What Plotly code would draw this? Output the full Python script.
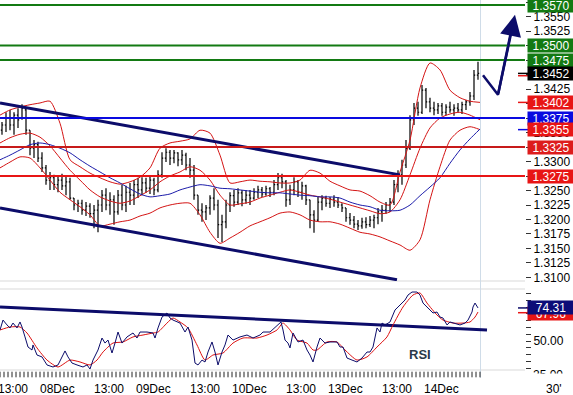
import plotly.graph_objects as go

# ---------------- data ----------------
# hourly bars, x in hours since start of chart
bar_hours = [i + 0.5 for i in range(120)]
bar_open = [1.3354, 1.3363, 1.3375, 1.3363, 1.3380, 1.3375, 1.3389, 1.3354, 1.3323, 1.3329,
            1.3306, 1.3289, 1.3268, 1.3272, 1.3260, 1.3268, 1.3258, 1.3265, 1.3237, 1.3225,
            1.3228, 1.3216, 1.3223, 1.3210, 1.3216, 1.3225, 1.3242, 1.3225, 1.3234, 1.3213,
            1.3242, 1.3225, 1.3247, 1.3242, 1.3260, 1.3251, 1.3263, 1.3254, 1.3268, 1.3251,
            1.3277, 1.3306, 1.3316, 1.3306, 1.3315, 1.3303, 1.3311, 1.3294, 1.3285, 1.3242,
            1.3216, 1.3213, 1.3220, 1.3237, 1.3225, 1.3191, 1.3196, 1.3225, 1.3241, 1.3230,
            1.3246, 1.3234, 1.3242, 1.3237, 1.3247, 1.3251, 1.3244, 1.3253, 1.3247, 1.3260,
            1.3272, 1.3265, 1.3234, 1.3251, 1.3265, 1.3247, 1.3258, 1.3234, 1.3208, 1.3199,
            1.3230, 1.3237, 1.3228, 1.3235, 1.3230, 1.3225, 1.3220, 1.3203, 1.3199, 1.3192,
            1.3189, 1.3196, 1.3191, 1.3199, 1.3203, 1.3213, 1.3216, 1.3225, 1.3230, 1.3260,
            1.3277, 1.3294, 1.3323, 1.3372, 1.3392, 1.3385, 1.3423, 1.3403, 1.3392, 1.3389,
            1.3396, 1.3385, 1.3394, 1.3389, 1.3392, 1.3389, 1.3398, 1.3403, 1.3413, 1.3449]
bar_high = [1.3368, 1.3385, 1.3389, 1.3385, 1.3392, 1.3399, 1.3392, 1.3354, 1.3337, 1.3334,
            1.3316, 1.3294, 1.3282, 1.3277, 1.3275, 1.3279, 1.3275, 1.3272, 1.3237, 1.3234,
            1.3234, 1.3230, 1.3228, 1.3225, 1.3234, 1.3251, 1.3254, 1.3247, 1.3242, 1.3251,
            1.3260, 1.3258, 1.3263, 1.3268, 1.3272, 1.3273, 1.3272, 1.3275, 1.3272, 1.3285,
            1.3316, 1.3323, 1.3320, 1.3320, 1.3316, 1.3320, 1.3315, 1.3306, 1.3294, 1.3242,
            1.3228, 1.3225, 1.3242, 1.3254, 1.3234, 1.3208, 1.3234, 1.3247, 1.3251, 1.3254,
            1.3251, 1.3251, 1.3251, 1.3254, 1.3258, 1.3256, 1.3258, 1.3256, 1.3268, 1.3280,
            1.3279, 1.3268, 1.3260, 1.3273, 1.3268, 1.3265, 1.3260, 1.3234, 1.3216, 1.3239,
            1.3242, 1.3241, 1.3239, 1.3242, 1.3239, 1.3228, 1.3220, 1.3211, 1.3206, 1.3199,
            1.3203, 1.3204, 1.3206, 1.3208, 1.3220, 1.3225, 1.3230, 1.3237, 1.3268, 1.3285,
            1.3303, 1.3337, 1.3380, 1.3401, 1.3403, 1.3432, 1.3427, 1.3410, 1.3403, 1.3401,
            1.3401, 1.3399, 1.3403, 1.3399, 1.3401, 1.3403, 1.3406, 1.3420, 1.3458, 1.3472]
bar_low = [1.3346, 1.3351, 1.3354, 1.3346, 1.3358, 1.3372, 1.3346, 1.3311, 1.3306, 1.3299,
           1.3282, 1.3260, 1.3251, 1.3251, 1.3247, 1.3251, 1.3242, 1.3234, 1.3216, 1.3213,
           1.3208, 1.3206, 1.3203, 1.3185, 1.3178, 1.3213, 1.3216, 1.3208, 1.3191, 1.3208,
           1.3216, 1.3213, 1.3225, 1.3225, 1.3237, 1.3242, 1.3246, 1.3244, 1.3242, 1.3247,
           1.3272, 1.3299, 1.3294, 1.3297, 1.3292, 1.3294, 1.3285, 1.3272, 1.3234, 1.3208,
           1.3196, 1.3199, 1.3208, 1.3216, 1.3168, 1.3161, 1.3185, 1.3213, 1.3222, 1.3225,
           1.3223, 1.3227, 1.3225, 1.3234, 1.3237, 1.3239, 1.3241, 1.3239, 1.3242, 1.3251,
           1.3254, 1.3222, 1.3225, 1.3242, 1.3239, 1.3234, 1.3225, 1.3185, 1.3177, 1.3196,
           1.3216, 1.3222, 1.3220, 1.3222, 1.3220, 1.3213, 1.3196, 1.3191, 1.3185, 1.3182,
           1.3184, 1.3185, 1.3187, 1.3185, 1.3192, 1.3196, 1.3210, 1.3213, 1.3225, 1.3247,
           1.3260, 1.3289, 1.3320, 1.3363, 1.3379, 1.3382, 1.3392, 1.3385, 1.3380, 1.3382,
           1.3379, 1.3380, 1.3384, 1.3379, 1.3384, 1.3382, 1.3389, 1.3396, 1.3406, 1.3441]
bar_close = [1.3363, 1.3375, 1.3363, 1.3380, 1.3372, 1.3392, 1.3354, 1.3323, 1.3329, 1.3306,
             1.3289, 1.3268, 1.3272, 1.3260, 1.3268, 1.3258, 1.3265, 1.3237, 1.3225, 1.3228,
             1.3216, 1.3223, 1.3210, 1.3216, 1.3225, 1.3242, 1.3225, 1.3234, 1.3213, 1.3242,
             1.3225, 1.3247, 1.3242, 1.3260, 1.3251, 1.3263, 1.3254, 1.3268, 1.3251, 1.3277,
             1.3306, 1.3316, 1.3306, 1.3315, 1.3303, 1.3311, 1.3294, 1.3285, 1.3242, 1.3216,
             1.3213, 1.3220, 1.3237, 1.3225, 1.3191, 1.3196, 1.3225, 1.3241, 1.3230, 1.3246,
             1.3234, 1.3242, 1.3237, 1.3247, 1.3251, 1.3244, 1.3253, 1.3247, 1.3260, 1.3272,
             1.3265, 1.3234, 1.3251, 1.3265, 1.3247, 1.3258, 1.3234, 1.3208, 1.3199, 1.3230,
             1.3237, 1.3228, 1.3235, 1.3230, 1.3225, 1.3220, 1.3203, 1.3199, 1.3192, 1.3189,
             1.3196, 1.3191, 1.3199, 1.3203, 1.3213, 1.3216, 1.3225, 1.3230, 1.3260, 1.3277,
             1.3294, 1.3323, 1.3372, 1.3392, 1.3385, 1.3423, 1.3403, 1.3392, 1.3389, 1.3396,
             1.3385, 1.3394, 1.3389, 1.3392, 1.3389, 1.3398, 1.3403, 1.3413, 1.3449, 1.3452]

# Bollinger-type bands and moving average, sampled every 2.5 hours
band_hours = [i * 2.5 for i in range(49)]
band_upper = [1.3380, 1.3389, 1.3394, 1.3398, 1.3401, 1.3404, 1.3366, 1.3303, 1.3291, 1.3280,
              1.3272, 1.3265, 1.3261, 1.3265, 1.3273, 1.3289, 1.3323, 1.3332, 1.3335, 1.3339,
              1.3354, 1.3349, 1.3311, 1.3263, 1.3265, 1.3268, 1.3266, 1.3265, 1.3263, 1.3263,
              1.3268, 1.3285, 1.3280, 1.3266, 1.3258, 1.3251, 1.3249, 1.3241, 1.3230, 1.3225,
              1.3282, 1.3337, 1.3427, 1.3470, 1.3458, 1.3423, 1.3410, 1.3404, 1.3402]
band_middle = [1.3332, 1.3341, 1.3347, 1.3349, 1.3342, 1.3327, 1.3306, 1.3285, 1.3268, 1.3251,
               1.3239, 1.3232, 1.3228, 1.3232, 1.3241, 1.3251, 1.3265, 1.3275, 1.3282, 1.3291,
               1.3285, 1.3268, 1.3242, 1.3225, 1.3227, 1.3230, 1.3237, 1.3242, 1.3247, 1.3251,
               1.3247, 1.3242, 1.3239, 1.3235, 1.3230, 1.3225, 1.3220, 1.3215, 1.3210, 1.3213,
               1.3234, 1.3277, 1.3323, 1.3358, 1.3375, 1.3382, 1.3385, 1.3380, 1.3372]
band_lower = [1.3289, 1.3299, 1.3308, 1.3306, 1.3289, 1.3268, 1.3247, 1.3234, 1.3222, 1.3208,
              1.3189, 1.3192, 1.3196, 1.3199, 1.3206, 1.3211, 1.3220, 1.3225, 1.3228, 1.3228,
              1.3208, 1.3178, 1.3159, 1.3168, 1.3178, 1.3189, 1.3196, 1.3203, 1.3211, 1.3213,
              1.3208, 1.3199, 1.3196, 1.3196, 1.3192, 1.3185, 1.3178, 1.3175, 1.3170, 1.3163,
              1.3156, 1.3147, 1.3165, 1.3234, 1.3291, 1.3337, 1.3354, 1.3360, 1.3355]
ma_blue = [1.3303, 1.3311, 1.3320, 1.3329, 1.3332, 1.3329, 1.3323, 1.3315, 1.3303, 1.3292,
           1.3282, 1.3272, 1.3263, 1.3253, 1.3244, 1.3239, 1.3241, 1.3244, 1.3251, 1.3256,
           1.3260, 1.3258, 1.3254, 1.3253, 1.3251, 1.3249, 1.3247, 1.3246, 1.3246, 1.3244,
           1.3242, 1.3241, 1.3239, 1.3239, 1.3237, 1.3230, 1.3225, 1.3222, 1.3216, 1.3215,
           1.3216, 1.3225, 1.3241, 1.3256, 1.3272, 1.3297, 1.3320, 1.3339, 1.3356]

# trend channel (hours, prices)
channel_top_hours = [0, 100]
channel_top_price = [1.3401, 1.3277]
channel_bot_hours = [0, 99.25]
channel_bot_price = [1.3220, 1.3096]

# forecast arrow (hours, prices)
arrow_hours = [120.75, 124.5, 128.25]
arrow_price = [1.3449, 1.3415, 1.3541]
arrow_tip = (128.75, 1.3553)

# support / resistance levels
levels_green = [1.3570, 1.3500, 1.3475]
level_blue = 1.3375
level_darkred = 1.3325
level_red = 1.3275
last_price = 1.3452
last_upper = 1.3402
last_ma = 1.3355

# RSI
rsi_hours = [0, 0.75, 1.75, 2.5, 3.25, 4.25, 5, 5.5, 6.25, 7, 8, 8.25, 9.25, 10.5, 11.75, 13.25,
             14.5, 15.5, 16.25, 17, 18, 19.25, 20.75, 21.75, 22.5, 23.25, 24.5, 25.5, 26.25, 27,
             28, 28.75, 29.5, 30.5, 31.75, 33.25, 34.25, 35, 36.75, 38.25, 38.75, 39.5, 40.5,
             41.75, 42.5, 43.25, 45, 46.25, 47, 48, 48.75, 49.5, 50.5, 51.25, 52, 53, 53.75,
             54.5, 55.5, 56.25, 57, 58.25, 60, 61.75, 63.25, 65, 65.75, 67.5, 69.25, 70.25,
             70.75, 71.25, 72, 72.5, 73.25, 74.5, 75.75, 76.75, 77.5, 78.25, 79.25, 80, 81.25,
             82.5, 84.25, 85, 85.75, 86.75, 88, 89.25, 90.5, 91.75, 92.5, 93.25, 94.25, 95,
             95.5, 96.25, 97.5, 98.75, 99.5, 100.5, 101.25, 102, 103, 104.25, 105, 105.75, 107,
             108.25, 109.25, 110, 110.75, 111.75, 112.5, 113.25, 115, 116.25, 117, 118, 118.25,
             118.75, 119.5]
rsi_values = [58.1, 65.4, 61.8, 59.6, 63.2, 59.6, 64.0, 60.3, 53.0, 45.6, 43.4, 47.1, 39.7, 38.3,
              32.4, 30.9, 32.4, 38.3, 42.7, 38.3, 33.8, 32.4, 30.9, 32.4, 29.4, 36.0, 43.4, 52.2,
              48.5, 50.7, 41.2, 48.5, 56.6, 48.5, 53.0, 55.9, 52.2, 56.6, 56.6, 55.9, 52.2, 59.6,
              67.6, 70.6, 66.9, 65.4, 63.2, 56.6, 60.3, 50.7, 33.8, 32.4, 36.0, 34.6, 41.9, 49.3,
              41.9, 32.4, 41.9, 47.1, 54.4, 50.7, 53.0, 54.4, 52.2, 54.4, 56.6, 56.6, 61.8, 64.0,
              58.1, 50.7, 48.5, 44.9, 55.9, 49.3, 50.7, 43.4, 39.7, 34.6, 45.6, 52.2, 48.5, 49.3,
              49.3, 45.6, 45.6, 37.5, 36.0, 34.6, 37.5, 41.9, 41.9, 45.6, 59.6, 56.6, 63.2, 61.8,
              64.0, 72.8, 75.0, 77.9, 80.1, 83.8, 86.0, 86.0, 83.8, 77.9, 74.3, 70.6, 71.3, 67.6,
              66.9, 61.8, 64.0, 63.2, 61.8, 63.2, 65.4, 71.3, 75.0, 77.9, 74.31]
rsi_ma_hours = [0, 2.5, 5, 6.75, 9.25, 11.75, 14.5, 17.5, 20, 22.5, 24.25, 25.75, 28.25, 30.75,
                33.25, 35.75, 38.25, 39.5, 41.75, 43.25, 45, 47, 49.25, 51.25, 53.25, 55.75,
                58.25, 60.75, 64.25, 66.75, 69.25, 70.75, 72.5, 74.25, 76.75, 78.25, 79.25,
                81.75, 84.25, 86.25, 89.25, 91.75, 94.25, 96.75, 98.25, 100.75, 103.25, 105,
                106.75, 109.25, 110.75, 113.25, 115.75, 117.5, 118.75, 119.5]
rsi_ma_values = [58.1, 60.3, 60.3, 55.9, 44.9, 36.0, 30.9, 36.0, 34.6, 32.4, 36.0, 41.9, 48.5,
                 49.3, 53.0, 54.4, 55.9, 56.6, 63.2, 66.9, 64.0, 59.6, 47.1, 36.0, 39.7, 41.2,
                 48.5, 52.2, 52.2, 54.4, 58.1, 63.2, 58.1, 50.7, 48.5, 43.4, 43.4, 49.3, 49.3,
                 43.4, 36.0, 38.3, 45.6, 53.0, 61.8, 75.0, 83.8, 85.3, 77.9, 69.1, 65.4, 63.2,
                 63.2, 64.0, 67.6, 71.3]
rsi_trend_hours = [0, 121.75]
rsi_trend_values = [75.0, 58.1]
rsi_last = 74.31
rsi_ma_last_label = "67.96"

# time axis labels
time_tick_hours = [3.25, 14.25, 27.25, 38.25, 51.25, 62.25, 75.25, 86.25, 99.25, 110.25]
time_tick_text = ["13:00", "08Dec", "13:00", "09Dec", "13:00", "10Dec", "13:00", "13Dec", "13:00", "14Dec"]
hour_ticks = list(range(121))
price_ticks = [1.3100 + 0.0025 * i for i in range(20)]
rsi_ticks = [25, 50, 75]

# ---------------- styling ----------------
NAVY = "#0c0c6a"
GREEN = "#137a13"
RED = "#e81515"
DARKRED = "#c71a1a"
BLUE = "#0a0ae0"
FONT = "Liberation Sans, Arial, sans-serif"

W, H = 573, 395
L_M, R_M, T_M, B_M = 0, 48, 0, 17
PH = H - T_M - B_M  # 378
PW = W - L_M - R_M  # 525
X_MAX = 131.25      # hours across the plot width


def py(ypx):
    """pixel row -> paper y"""
    return (PH - ypx) / PH


def px_of_hour(h):
    return h / X_MAX


fig = go.Figure()

# bands and MA
for ys in (band_upper, band_middle, band_lower):
    fig.add_trace(go.Scatter(x=band_hours, y=ys, mode="lines",
                             line=dict(color="#d41414", width=1, shape="spline", smoothing=0.7),
                             hoverinfo="skip", xaxis="x", yaxis="y"))
fig.add_trace(go.Scatter(x=band_hours, y=ma_blue, mode="lines",
                         line=dict(color="#1c1caa", width=1, shape="spline", smoothing=0.7),
                         hoverinfo="skip", xaxis="x", yaxis="y"))

# price bars
fig.add_trace(go.Ohlc(x=bar_hours, open=bar_open, high=bar_high, low=bar_low, close=bar_close,
                      increasing=dict(line=dict(color="black", width=1.2)),
                      decreasing=dict(line=dict(color="black", width=1.2)),
                      tickwidth=0.3, hoverinfo="skip", xaxis="x", yaxis="y"))

# channel lines
fig.add_trace(go.Scatter(x=channel_top_hours, y=channel_top_price, mode="lines",
                         line=dict(color=NAVY, width=3), hoverinfo="skip", xaxis="x", yaxis="y"))
fig.add_trace(go.Scatter(x=channel_bot_hours, y=channel_bot_price, mode="lines",
                         line=dict(color=NAVY, width=3), hoverinfo="skip", xaxis="x", yaxis="y"))

# arrow path
fig.add_trace(go.Scatter(x=arrow_hours, y=arrow_price, mode="lines",
                         line=dict(color=NAVY, width=2.5), hoverinfo="skip", xaxis="x", yaxis="y"))

# RSI
fig.add_trace(go.Scatter(x=rsi_trend_hours, y=rsi_trend_values, mode="lines",
                         line=dict(color=NAVY, width=3), hoverinfo="skip", xaxis="x", yaxis="y2"))
fig.add_trace(go.Scatter(x=rsi_ma_hours, y=rsi_ma_values, mode="lines",
                         line=dict(color="#dd1111", width=1, shape="spline", smoothing=0.6),
                         hoverinfo="skip", xaxis="x", yaxis="y2"))
fig.add_trace(go.Scatter(x=rsi_hours, y=rsi_values, mode="lines",
                         line=dict(color=NAVY, width=1), hoverinfo="skip", xaxis="x", yaxis="y2"))

# hourly time ticks in the strip under the RSI panel
fig.add_trace(go.Scatter(x=hour_ticks, y=[0.5] * len(hour_ticks), mode="markers",
                         marker=dict(symbol="line-ns", size=4, color="#222222",
                                     line=dict(color="#222222", width=1)),
                         hoverinfo="skip", xaxis="x", yaxis="y3", cliponaxis=False))

shapes = []
# horizontal level lines
for lv in levels_green:
    shapes.append(dict(type="line", xref="paper", yref="y", x0=0, x1=1, y0=lv, y1=lv,
                       line=dict(color=GREEN, width=2)))
shapes.append(dict(type="line", xref="paper", yref="y", x0=0, x1=1, y0=level_blue, y1=level_blue,
                   line=dict(color=BLUE, width=2)))
shapes.append(dict(type="line", xref="paper", yref="y", x0=0, x1=1, y0=level_darkred, y1=level_darkred,
                   line=dict(color=DARKRED, width=2)))
shapes.append(dict(type="line", xref="paper", yref="y", x0=0, x1=1, y0=level_red, y1=level_red,
                   line=dict(color=RED, width=2)))
# panel separators
for ypx in (281, 289, 370):
    shapes.append(dict(type="line", xref="paper", yref="paper", x0=0, x1=1,
                       y0=py(ypx), y1=py(ypx), line=dict(color="#d9d9d9", width=1), layer="below"))
# current-time vertical line
shapes.append(dict(type="line", xref="paper", yref="paper",
                   x0=px_of_hour(120) + 0.5 / PW, x1=px_of_hour(120) + 0.5 / PW,
                   y0=0, y1=1, line=dict(color="#cfdce8", width=1), layer="below"))


# last value markers next to the axis
def mark(yval, yref, color):
    shapes.append(dict(type="line", xref="paper", yref=yref, x0=518 / PW, x1=530 / PW,
                       y0=yval, y1=yval, line=dict(color=color, width=1.5)))


mark(last_price, "y", "black")
mark(last_price - 0.0004, "y", RED)
mark(last_upper, "y", RED)
mark(last_ma, "y", BLUE)
mark(rsi_last, "y2", NAVY)
mark(rsi_last - 3.5, "y2", RED)

annotations = []


def box(val, yref, text, color):
    annotations.append(dict(xref="paper", yref=yref, x=1, y=val, xanchor="left", yanchor="middle",
                            xshift=2, text=text, showarrow=False, bgcolor=color, width=46, height=13,
                            borderpad=0, font=dict(family=FONT, size=12, color="white")))


for lv in levels_green:
    box(lv, "y", f"{lv:.4f}", GREEN)
box(last_price, "y", f"{last_price:.4f}", "black")
box(last_upper, "y", f"{last_upper:.4f}", RED)
box(level_blue, "y", f"{level_blue:.4f}", BLUE)
box(last_ma, "y", f"{last_ma:.4f}", RED)
box(level_darkred, "y", f"{level_darkred:.4f}", "#dd1c1c")
box(level_red, "y", f"{level_red:.4f}", RED)
box(rsi_last - 4.0, "y2", rsi_ma_last_label, RED)
box(rsi_last, "y2", f"{rsi_last:.2f}", "#0c0c78")

# arrow head
annotations.append(dict(xref="x", yref="y", axref="x", ayref="y", x=arrow_tip[0], y=arrow_tip[1],
                        ax=arrow_hours[1], ay=arrow_price[1], text="", showarrow=True,
                        arrowhead=2, arrowsize=1.7, arrowwidth=2.5, arrowcolor=NAVY))
# RSI label
annotations.append(dict(xref="x", yref="y2", x=105, y=40.4, text="<b>RSI</b>", showarrow=False,
                        font=dict(family=FONT, size=13, color="#2b3a4a")))
# time labels
for h, t in zip(time_tick_hours, time_tick_text):
    annotations.append(dict(xref="paper", yref="paper", x=px_of_hour(h), y=py(389), text=t,
                            xanchor="center", yanchor="middle", showarrow=False,
                            font=dict(family=FONT, size=12, color="black")))
# 25.00 label at the bottom of the RSI axis, only its top slice is visible
annotations.append(dict(xref="paper", yref="paper", x=1, y=py(375), xanchor="left", yanchor="middle",
                        xshift=6, text="25.00", showarrow=False,
                        font=dict(family=FONT, size=12, color="black")))
annotations.append(dict(xref="paper", yref="paper", x=1, y=py(372.5), xanchor="left", yanchor="top",
                        xshift=1, text=" ", showarrow=False, bgcolor="white", width=47, height=9,
                        borderpad=0, font=dict(family=FONT, size=8, color="white")))
# timeframe label
annotations.append(dict(xref="paper", yref="paper", x=554 / PW, y=py(389), text="30'",
                        xanchor="center", yanchor="middle",
                        showarrow=False, font=dict(family=FONT, size=12, color="black")))

fig.update_layout(
    width=W, height=H,
    margin=dict(l=L_M, r=R_M, t=T_M, b=B_M),
    paper_bgcolor="white", plot_bgcolor="white",
    showlegend=False,
    font=dict(family=FONT, size=12, color="black"),
    shapes=shapes,
    annotations=annotations,
    xaxis=dict(range=[0, X_MAX], anchor="free", position=0, showgrid=False, zeroline=False,
               showline=False, showticklabels=False, ticks="",
               rangeslider=dict(visible=False), fixedrange=True),
    yaxis=dict(domain=[py(281), 1], range=[1.3578625 - 0.0001725 * 281, 1.3578625],
               side="right", showgrid=False, zeroline=False, showline=False,
               tickmode="array", tickvals=price_ticks, ticktext=[f"{v:.4f}" for v in price_ticks],
               ticks="outside", ticklen=5, tickcolor="#333333", tickwidth=1,
               tickfont=dict(family=FONT, size=12, color="black"), anchor="x"),
    yaxis2=dict(domain=[py(370), py(289)], range=[75 - 63 * 0.735, 75 + 18 * 0.735],
                side="right", showgrid=False, zeroline=False, showline=False,
                tickmode="array", tickvals=rsi_ticks, ticktext=[f"{v:.2f}" for v in rsi_ticks],
                ticks="outside", ticklen=5, tickcolor="#333333",
                minor=dict(dtick=5, tick0=0, ticks="outside", ticklen=5, tickcolor="#333333"),
                tickfont=dict(family=FONT, size=12, color="black"), anchor="x"),
    yaxis3=dict(domain=[0, py(371)], range=[0, 1], visible=False, anchor="x", fixedrange=True),
)

fig.write_html("out.html", config={"displayModeBar": False},
               post_script="document.body.style.margin='0';document.body.style.overflow='hidden';")
